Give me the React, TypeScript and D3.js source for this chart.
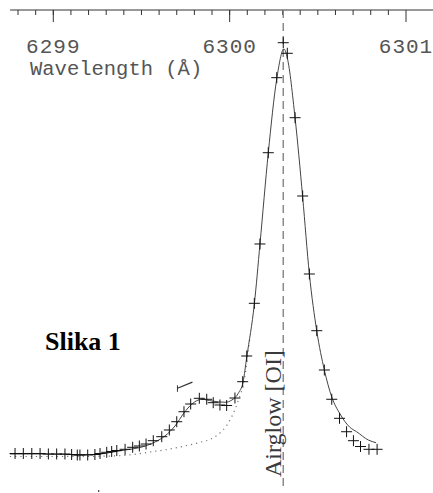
import React from "react";
import * as d3 from "d3";

const width = 433;
const height = 493;

// observed spectrum (crosses): wavelength in A, relative intensity
const obsWave = [
  6298.783, 6298.83, 6298.878, 6298.925, 6298.972, 6299.019, 6299.066, 6299.104,
  6299.136, 6299.151, 6299.195, 6299.236, 6299.265, 6299.303, 6299.331, 6299.36,
  6299.407, 6299.45, 6299.488, 6299.526, 6299.567, 6299.615, 6299.658, 6299.7,
  6299.741, 6299.779, 6299.828, 6299.87, 6299.907, 6299.945, 6299.983, 6300.03,
  6300.074, 6300.097, 6300.14, 6300.172, 6300.219, 6300.267, 6300.304, 6300.327,
  6300.371, 6300.414, 6300.452, 6300.494, 6300.537, 6300.579, 6300.623, 6300.663,
  6300.702, 6300.742, 6300.79, 6300.836
];
const obsFlux = [
  1.1, 1.1, 1.1, 1.1, 0.98, 0.98, 0.98, 0.85,
  0.73, 0.73, 0.73, 0.85, 1.1, 1.39, 1.59, 1.83,
  2.12, 2.61, 2.93, 3.41, 4.22, 5.2, 6.83, 8.85,
  11.29, 13.17, 14.56, 14.32, 13.49, 12.93, 12.8, 14.63,
  18.61, 24.88, 37.73, 52.2, 74.46, 92.76, 101.29, 98.71,
  83.0, 63.9, 44.88, 31.05, 21.46, 14.32, 9.68, 6.41,
  4.22, 2.8, 2.12, 2.12
];

// total fit (solid line)
const fitWave = [
  6298.754, 6298.925, 6299.095, 6299.236, 6299.322, 6299.407, 6299.492, 6299.577,
  6299.633, 6299.69, 6299.741, 6299.786, 6299.842, 6299.9, 6299.974, 6300.013,
  6300.049, 6300.076, 6300.097, 6300.14, 6300.172, 6300.219, 6300.267, 6300.308,
  6300.327, 6300.371, 6300.414, 6300.452, 6300.494, 6300.537, 6300.579, 6300.626,
  6300.683, 6300.72, 6300.786, 6300.83
];
const fitFlux = [
  0.98, 0.98, 0.85, 0.85, 1.34, 1.95, 2.56, 3.9,
  5.37, 7.8, 10.98, 13.17, 14.32, 13.9, 13.59, 14.15,
  15.78, 18.54, 24.63, 37.56, 52.2, 74.39, 92.44, 99.76,
  97.56, 82.93, 63.66, 44.88, 30.98, 21.46, 14.88, 10.73,
  7.44, 6.41, 4.39, 3.73
];

// airglow component alone (dotted line), until it joins the fit
const glowWave = [
  6298.754, 6299.038, 6299.339, 6299.452, 6299.548, 6299.645, 6299.758, 6299.849,
  6299.889, 6299.923, 6299.957, 6299.979, 6300.002, 6300.019, 6300.036, 6300.05,
  6300.064, 6300.079, 6300.09, 6300.101, 6300.113
];
const glowFlux = [
  0.37, 0.37, 0.49, 0.85, 1.46, 2.07, 3.05, 4.02,
  4.51, 5.37, 6.59, 7.68, 9.27, 10.73, 12.44, 14.15,
  15.85, 18.05, 20.98, 24.63, 28.78
];

const airglowLine = 6300.304;
const majorTicks = [6299, 6300, 6301];
const axisLabel = "Wavelength (\u00c5)";
const figLabel = "Slika 1";
const lineLabel = "Airglow [OI]";

// little slanted marker above the blend
const markWave = [6299.704, 6299.789];
const markFlux = [17.0, 18.5];

const x = d3.scaleLinear().domain([6299, 6301]).range([53.3, 406]);
const y = d3.scaleLinear().domain([0, 100]).range([458, 48]);

const zip = (w: number[], f: number[]) => w.map((d, i) => [d, f[i]] as [number, number]);

export default function App() {
  const line = d3
    .line<[number, number]>()
    .x(d => x(d[0]))
    .y(d => y(d[1]))
    .curve(d3.curveMonotoneX);

  const minor = d3.range(-2, 22).map(i => 6298.8 + i * 0.1);
  const axisY = 10;
  const obs = zip(obsWave, obsFlux);
  const cross = 5.5;

  return (
    <div style={{ position: "absolute", left: 0, top: 0 }}>
      <svg width={width} height={height} style={{ display: "block", background: "#fff" }}>
        {/* top axis */}
        <line x1={x(6298.755)} x2={width} y1={axisY} y2={axisY} stroke="#333" strokeWidth={1} />
        {minor
          .filter(d => x(d) > 11 && x(d) < width)
          .map((d, i) => (
            <line key={"m" + i} x1={x(d)} x2={x(d)} y1={axisY} y2={axisY + 5} stroke="#333" strokeWidth={1} />
          ))}
        {majorTicks.map(d => (
          <g key={d}>
            <line x1={x(d)} x2={x(d)} y1={axisY} y2={axisY + 12} stroke="#333" strokeWidth={1} />
            <text
              x={x(d)}
              y={52.5}
              textAnchor="middle"
              fontFamily="Liberation Mono"
              fontSize={21}
              letterSpacing={1}
              fill="#555"
            >
              {d}
            </text>
          </g>
        ))}
        <text x={30} y={75} fontFamily="Liberation Mono" fontSize={20.5} fill="#555">
          {axisLabel}
        </text>

        {/* airglow line position */}
        <line
          x1={x(airglowLine)}
          x2={x(airglowLine)}
          y1={axisY}
          y2={490}
          stroke="#8a8a8a"
          strokeWidth={1.5}
          strokeDasharray="8 5"
        />
        <text
          transform={`translate(281,477) rotate(-90)`}
          fontFamily="Liberation Serif"
          fontSize={24}
          fill="#3a3a3a"
        >
          {lineLabel}
        </text>

        <text x={45} y={350} fontFamily="Liberation Serif" fontWeight="bold" fontSize={26} fill="#000">
          {figLabel}
        </text>

        {/* components */}
        <path
          d={line(zip(glowWave, glowFlux)) || ""}
          fill="none"
          stroke="#777"
          strokeWidth={1.2}
          strokeDasharray="1.2 4"
        />
        <path d={line(zip(fitWave, fitFlux)) || ""} fill="none" stroke="#444" strokeWidth={1} />

        {obs.map((d, i) => (
          <path
            key={i}
            d={`M${x(d[0]) - cross},${y(d[1])}h${cross * 2}M${x(d[0])},${y(d[1]) - cross}v${cross * 2}`}
            stroke="#111"
            strokeWidth={1}
            fill="none"
          />
        ))}

        {/* slanted marker */}
        <line
          x1={x(markWave[0])}
          y1={y(markFlux[0])}
          x2={x(markWave[1])}
          y2={y(markFlux[1])}
          stroke="#333"
          strokeWidth={1.2}
        />
        <line
          x1={x(markWave[0])}
          y1={y(markFlux[0]) - 3}
          x2={x(markWave[0])}
          y2={y(markFlux[0]) + 3.5}
          stroke="#333"
          strokeWidth={1}
        />
        <rect x={x(6299.254)} y={490} width={1.2} height={2} fill="#444" />
      </svg>
    </div>
  );
}
